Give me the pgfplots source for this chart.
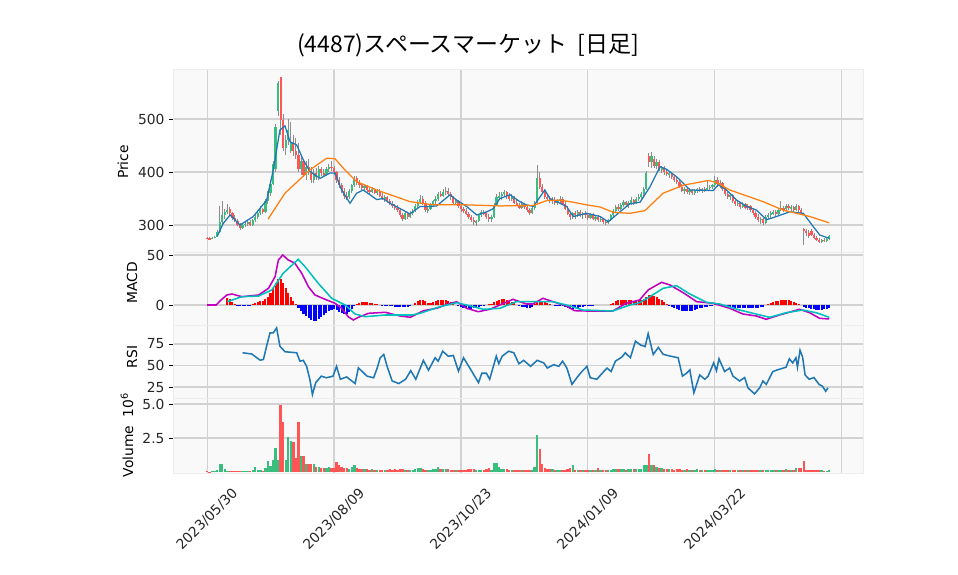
\documentclass[border=0pt]{standalone}
\usepackage{pgfplots}
\pgfplotsset{compat=1.18}
\usepackage{pgfplotstable}
\usepackage{fontspec}
\setmainfont{DejaVu Sans}
\newfontfamily\jpfont{Noto Sans CJK JP}

\definecolor{upc}{RGB}{58,190,128}
\definecolor{dnc}{RGB}{255,85,85}
\definecolor{wick}{RGB}{140,140,140}
\definecolor{gridc}{RGB}{210,210,210}
\definecolor{panel}{RGB}{249,249,249}
\definecolor{ma5}{RGB}{31,119,180}
\definecolor{ma25}{RGB}{255,127,14}
\definecolor{macdc}{RGB}{191,0,191}
\definecolor{sigc}{RGB}{0,191,191}

% daily candles: index, open, high, low, close, volume (10^6), macd histogram
\pgfplotstableread{
i o h l c v m
0 276 278 273 275 0.05 0
1 275 277 272 274 0.04 0
2 274 278 273 276 0.05 0
3 276 280 275 278 0.06 0
4 278 290 277 286 0.15 0
5 286 335 285 305 0.60 0
6 305 345 300 318 0.60 0
7 318 330 312 324 0.20 0
8 324 340 320 328 0.10 7
9 330 334 318 322 0.10 6
10 322 325 310 314 0.08 3
11 314 318 305 308 0.06 1
12 308 312 298 300 0.08 -1
13 300 304 290 294 0.05 -1.5
14 294 302 292 300 0.05 -1.2
15 300 305 296 302 0.05 -0.8
16 302 310 299 306 0.06 -0.5
17 306 309 298 300 0.08 -0.3
18 300 312 299 310 0.12 0.5
19 310 318 306 316 0.36 1.5
20 316 325 312 322 0.12 2.5
21 322 335 318 330 0.15 3.5
22 330 332 320 324 0.10 4
23 324 350 322 345 0.30 6
24 345 365 340 360 0.82 8
25 360 385 355 378 0.45 12
26 378 420 375 415 0.90 17
27 405 490 400 485 1.80 22
28 515 572 505 568 0.90 26
29 579 580 470 498 4.90 26
30 498 510 440 445 3.70 22
31 445 470 432 460 0.90 17
32 460 500 450 480 2.60 12
33 440 495 435 455 2.30 8
34 455 470 430 440 2.20 4
35 440 465 425 432 1.00 1
36 432 455 400 405 3.70 -3
37 405 430 395 420 1.20 -6
38 420 425 390 395 1.20 -9
39 395 420 385 410 0.60 -11
40 410 425 395 400 0.60 -13
41 400 410 380 385 0.60 -15
42 385 405 380 398 0.60 -16
43 398 408 385 390 0.40 -16
44 390 412 385 405 0.40 -14
45 405 410 392 398 0.30 -12
46 398 405 390 395 0.30 -10
47 395 410 392 405 0.30 -8
48 405 415 400 410 0.35 -6
49 410 420 402 408 0.30 -5
50 408 412 395 400 0.30 -4
51 400 402 380 385 0.75 -5
52 385 390 370 375 0.50 -7
53 375 380 360 365 0.40 -8
54 365 370 350 355 0.30 -9
55 355 362 348 352 0.30 -9
56 352 368 350 365 0.25 -7
57 365 378 360 375 0.40 -4
58 375 392 372 388 0.50 -1
59 388 392 375 380 0.30 1
60 380 385 370 375 0.25 2
61 375 380 366 370 0.20 3
62 370 378 365 374 0.20 3
63 374 376 362 366 0.20 2.5
64 366 370 358 362 0.15 2
65 362 372 360 368 0.20 1.5
66 368 370 358 360 0.15 1
67 360 368 356 365 0.15 0.5
68 365 368 352 355 0.15 0
69 355 360 348 350 0.15 -0.5
70 350 356 344 352 0.15 -0.5
71 352 355 342 345 0.15 -1
72 345 350 338 340 0.20 -1
73 340 345 332 336 0.15 -1.5
74 336 340 328 332 0.20 -2
75 332 338 325 328 0.15 -2
76 328 332 315 318 0.20 -2.5
77 318 322 308 312 0.20 -2.5
78 312 325 310 322 0.15 -2
79 322 325 312 315 0.15 -2
80 315 326 313 322 0.15 -1
81 322 330 318 326 0.15 0
82 326 340 324 336 0.20 2
83 336 348 332 344 0.30 4
84 344 356 340 350 0.30 5
85 350 355 338 342 0.20 5
86 342 345 325 328 0.15 4
87 328 335 322 330 0.15 2
88 330 342 328 338 0.15 2
89 338 348 335 345 0.20 3
90 345 355 340 350 0.20 4
91 350 362 345 358 0.38 5
92 358 365 352 355 0.20 5
93 355 368 352 362 0.20 5
94 362 372 356 365 0.20 4.5
95 365 370 355 358 0.20 4
96 358 362 348 352 0.15 3
97 352 355 340 342 0.15 1
98 342 350 338 345 0.15 0
99 345 348 332 335 0.15 -1.5
100 335 340 325 330 0.15 -2.5
101 330 334 322 326 0.15 -3
102 326 332 318 320 0.15 -3.5
103 320 325 312 315 0.20 -4
104 315 318 305 310 0.20 -4
105 310 315 300 305 0.20 -3.5
106 305 310 298 308 0.15 -3
107 308 320 305 318 0.15 -2
108 318 328 315 325 0.15 -1
109 325 328 318 322 0.15 -0.5
110 322 325 312 316 0.20 0
111 316 320 306 312 0.30 0.5
112 312 318 305 315 0.15 1
113 315 342 314 338 0.65 3
114 338 358 335 352 0.65 4
115 352 362 348 355 0.40 5
116 355 362 348 358 0.20 5.5
117 358 366 352 362 0.20 5.5
118 362 365 350 355 0.20 5
119 355 360 345 350 0.15 4
120 350 358 345 352 0.15 3
121 352 355 340 342 0.15 2
122 342 348 335 338 0.15 0
123 338 342 330 333 0.15 -1.5
124 333 345 330 340 0.15 -2
125 340 342 330 334 0.15 -2.5
126 334 338 325 328 0.15 -3
127 328 332 318 322 0.15 -3
128 322 335 320 332 0.15 -2
129 332 345 328 342 0.40 1
130 345 413 342 388 2.70 3
131 388 400 368 372 1.67 4
132 372 378 360 362 0.60 3.5
133 362 368 350 352 0.30 3
134 352 358 345 350 0.20 2
135 350 355 342 345 0.20 1
136 345 352 340 348 0.20 0
137 348 352 338 342 0.15 -0.5
138 342 350 338 346 0.15 -1
139 346 355 342 350 0.15 -1
140 350 352 338 340 0.15 -1.5
141 340 345 328 330 0.15 -2.5
142 330 335 318 320 0.20 -3.5
143 320 325 310 315 0.30 -4
144 315 325 312 322 0.55 -4
145 322 326 312 318 0.15 -3.5
146 318 328 316 325 0.15 -3
147 325 328 315 318 0.15 -2.5
148 318 325 312 322 0.15 -2
149 322 326 314 318 0.15 -1.5
150 318 322 310 314 0.15 -1
151 314 322 312 320 0.15 -0.5
152 320 322 310 312 0.15 -0.5
153 312 318 308 316 0.15 0
154 316 318 306 310 0.30 0
155 310 316 305 312 0.12 0
156 312 314 302 306 0.12 0
157 306 310 300 304 0.12 0
158 304 312 302 310 0.12 0
159 310 320 308 318 0.15 0.5
160 318 330 316 326 0.20 2
161 326 338 324 334 0.20 4
162 334 340 326 330 0.20 5
163 330 342 328 338 0.20 5
164 338 348 334 344 0.20 5
165 344 346 335 338 0.15 5
166 338 345 332 342 0.20 4.5
167 342 352 338 348 0.25 4.5
168 348 350 338 342 0.20 4
169 342 352 340 350 0.20 4
170 350 358 345 352 0.20 4.5
171 352 362 348 358 0.25 5
172 358 372 355 368 0.50 6
173 368 402 366 398 0.50 8
174 430 435 410 418 1.30 10
175 418 438 408 430 0.50 10
176 425 430 408 412 0.50 9
177 412 425 405 418 0.40 8
178 418 422 402 405 0.30 6
179 405 412 398 408 0.30 5
180 408 412 395 400 0.20 3
181 400 405 392 396 0.20 1
182 396 402 388 398 0.20 -1
183 398 400 386 390 0.20 -2
184 390 395 382 385 0.15 -3
185 385 390 378 382 0.20 -4
186 382 386 370 372 0.20 -5
187 372 378 362 365 0.15 -6
188 365 372 358 368 0.15 -6.5
189 368 372 358 362 0.25 -6.5
190 362 370 356 366 0.15 -6
191 366 368 356 360 0.15 -6
192 360 368 357 365 0.15 -5
193 365 370 360 368 0.20 -4
194 368 372 362 364 0.15 -3.5
195 364 370 360 368 0.15 -3
196 368 372 362 366 0.15 -2.5
197 366 385 364 370 0.15 -2
198 370 376 365 372 0.15 -1
199 372 378 368 375 0.15 -0.5
200 375 392 372 385 0.20 0.5
201 385 390 372 378 0.15 0.5
202 378 384 370 380 0.15 0.5
203 380 382 365 368 0.15 -0.5
204 368 372 355 358 0.15 -1
205 358 362 350 352 0.15 -1.5
206 352 360 348 356 0.15 -2
207 356 358 342 345 0.15 -2.5
208 345 350 336 340 0.15 -3
209 340 346 335 342 0.15 -3
210 342 344 330 334 0.15 -3
211 334 344 332 340 0.15 -3
212 340 342 330 332 0.12 -3.5
213 332 340 328 336 0.12 -3
214 336 338 325 328 0.12 -3
215 328 332 318 322 0.15 -3
216 322 326 312 316 0.15 -3
217 316 320 306 310 0.15 -3
218 310 316 302 312 0.15 -2.5
219 312 314 300 304 0.15 -2
220 304 318 302 316 0.15 0
221 316 322 312 318 0.15 1
222 318 326 314 322 0.15 2
223 322 328 318 324 0.15 3
224 324 328 316 320 0.15 3.5
225 320 332 318 328 0.15 4
226 328 345 326 332 0.15 5
227 332 336 325 330 0.15 5
228 330 340 326 336 0.20 5
229 336 340 328 332 0.15 4.5
230 332 338 326 334 0.15 4
231 334 336 325 328 0.15 3
232 328 340 326 335 0.30 2
233 335 338 325 328 0.30 1
234 328 332 318 322 0.30 0
235 292 295 262 288 0.82 -2
236 288 292 280 285 0.15 -3
237 285 290 276 280 0.12 -3.5
238 288 292 280 282 0.12 -4
239 282 285 274 276 0.12 -4.5
240 276 280 270 272 0.12 -5
241 272 276 266 268 0.12 -5
242 268 274 266 272 0.12 -5
243 272 276 268 270 0.10 -4.5
244 270 276 268 274 0.10 -4
245 274 282 272 280 0.12 -3
}\ohlc

\pgfplotstableread{
i v
4 279
6.4 303
9.1 319
13 300
18.2 316
23.5 347
26.1 404
28.7 479
30.7 487
32.7 457
35.3 451
37.9 423
40.5 401
44.5 388
48.4 398
50.4 398
53 366
56.3 341
58.9 360
61.5 366
64.2 357
66.8 348
69.4 350
72 341
76 331
79.9 321
83.9 335
87.8 335
90.4 336
95.7 357
98.3 347
102.2 335
106.2 319
110.2 325
112.7 331
115.3 350
119.3 357
123.2 344
125.8 338
128.5 335
131.1 353
133 366
135 350
139 341
141.6 335
144.2 316
149.5 322
154.8 316
158 306
162.6 325
166.5 340
170.5 343
174.4 372
178.4 410
181 405
184.9 391
187.5 379
190.2 366
199.3 365
201.3 376
204.6 366
208.5 347
212.5 335
216.4 328
220.3 310
224.2 316
229.5 325
234.8 322
238.7 297
241.3 281
245 275
}\mafive

\pgfplotstableread{
i v
24 311
30.7 360
40.5 404
47.1 426
50.4 425
53.7 407
58.9 382
66.8 366
80 344
89.1 338
102.2 338
115.3 336
128.5 337
133.7 346
139 347
144.2 343
149.5 338
154.8 334
160 324
166.5 322
172.4 327
179.6 360
187.5 375
197.4 384
200.7 380
205.9 366
219 344
226.9 328
237.4 316
245 304
}\matwfive

\pgfplotstableread{
i v
0 0
3.6 0
5.5 5
7.8 10
9.8 11
13.7 8.3
20.3 10
24.2 16.7
26.8 28.3
28.1 45
29.8 50
32 45
34.6 41.7
37.3 31.7
39.9 18.3
42.5 10
46.5 5.7
50.4 1.7
53 -3.3
55.6 -11.7
57.6 -15
59.6 -12.3
63.6 -8.3
70.2 -7.3
76 -11
80 -12.3
85.2 -5.7
90.4 -3.3
95.7 1.7
98.3 3.3
102.2 -3.3
106.8 -6.7
111.4 -4.3
115.3 0
120.5 5.7
125.8 1
128.3 1
132.3 6.7
136.2 3.3
141.5 -1
144.7 -5.7
149.3 -6
159.8 -6
165 1.7
170.3 5
173.7 15
176.4 19
179 22.7
182.3 20
187.5 12.3
192.8 3.3
199.3 1.7
205.8 -3.3
211 -9
216.3 -11
220.2 -14.3
225.4 -10
233.3 -4.3
237.3 -7.7
241.2 -13.3
245 -14
}\macd

\pgfplotstableread{
i v
8 3.3
13.7 8.3
20.3 9
25.5 15
30 31.7
35.9 45.7
38.6 38.3
43.8 21.7
49.1 6.7
54.4 0
58.3 -9
62.3 -11.7
70.2 -10
80.7 -10
83.9 -8.3
91.7 -1.7
98.3 2.3
102.2 0
108.8 -4.3
115.3 -3.3
121.8 3.3
128.3 3.3
136.2 3.3
141.5 0
148 -5
159.8 -6
166.5 0
170.3 2.3
174.4 8.3
179.6 16.7
184.9 19.3
190.1 11
196.7 2.7
201.9 1
209.7 -5
221.5 -12.3
228.1 -7.7
234.6 -5
239.9 -7.7
245 -12.3
}\signal

\pgfplotstableread{
i v
14 64.8
17.6 63.4
20.9 56.2
22.2 57
23.5 73
24.8 88
26.1 88
27.4 93.8
28.7 72.4
30.7 66
35.3 64.8
36.6 55
37.9 56
39.2 49.2
40.5 33.7
41.5 16.3
42.8 30
45 37.6
47 35.7
49.6 37.6
51 49
52.5 34
55 36.7
58.3 29
59.6 47.3
63 37.6
65.6 35.7
67 47
68.2 59
69.6 62.8
70.9 49
72.9 32
75.5 29
78.2 34
80.2 44
82.2 34
85.2 56
87.2 44.5
89.8 59
91 55
92.8 66.6
95 60.8
97 61.6
99 43.4
101 59
104.3 43
106.9 30
108.2 41
110 41
111.3 34
113.9 60.8
114.9 52.2
116.2 60.8
118.8 66.6
120.8 64.8
122.8 52
124.7 56
127.4 49
130 56
132.6 53
134 47
136.5 51
138.5 49
140 55
141.7 47
143.7 28
145.6 35.7
147.6 43
149.6 49
150.9 35.7
153.5 34
155.5 40.7
157.5 47
159.1 43
160.8 55
163.4 60
164.7 64.8
166.7 59
168.7 78.3
170.6 74
172.5 72
173.7 87
175.7 62.8
177.7 71
179.6 63
182.3 61
185.5 59
187.2 37.6
188.8 41
190.1 45
191.7 18.2
194 39
196 34
197.3 37.6
199.5 53
200.6 44
201.6 57.8
203.8 43
205.8 47
207.1 37.6
209.7 32
211.7 36
213 24
215.6 17
217.6 24
218.9 32
220.2 28
222.8 43
224.7 45
228 48
229.3 57.8
230.6 53
231.9 59
232.5 48
233.5 67.8
234.5 60
235.5 39
237.1 34
239 36
241 28
242.3 26
243.6 20
244.5 24
}\rsi

\pgfplotsset{
  panel/.style={
    scale only axis, width=496.8bp,
    xmin=-13.4, xmax=258.3,
    axis background/.style={fill=panel},
    axis line style={draw=black!7},
    grid=major, grid style={gridc, line width=0.75bp},
    xtick={0,50,...,250}, xticklabels={},
    xtick style={draw=none},
    tick align=outside, major tick length=2.6bp,
    ytick style={black, line width=0.6bp},
    ytick pos=left,
    /pgf/number format/assume math mode=true,
    yticklabel style={font=\fontsize{10}{12}\selectfont, text=black!85},
    anchor=south west,
  },
}

\begin{document}
\begin{tikzpicture}
\path[use as bounding box] (0,0) rectangle (689.76bp,414bp);

% price panel
\begin{axis}[panel, at={(124.56bp,232.56bp)}, height=131.76bp,
  ymin=249.1, ymax=594.3, ytick={300,400,500}]
\addplot[draw=none, mark=none, error bars/.cd, y dir=both, y explicit,
  error mark=none, error bar style={draw=wick, line width=0.7bp}]
  table[x=i, y expr={0.5*(\thisrow{h}+\thisrow{l})}, y error expr={0.5*(\thisrow{h}-\thisrow{l})}] {\ohlc};
\addplot[draw=none, mark=none, unbounded coords=discard, error bars/.cd, y dir=both, y explicit,
  error mark=none, error bar style={draw=upc, line width=1.6bp}]
  table[x=i, y expr={(\thisrow{c}>=\thisrow{o}) ? 0.5*(\thisrow{o}+\thisrow{c}) : nan},
        y error expr={0.5*abs(\thisrow{c}-\thisrow{o})}] {\ohlc};
\addplot[draw=none, mark=none, unbounded coords=discard, error bars/.cd, y dir=both, y explicit,
  error mark=none, error bar style={draw=dnc, line width=1.6bp}]
  table[x=i, y expr={(\thisrow{c}<\thisrow{o}) ? 0.5*(\thisrow{o}+\thisrow{c}) : nan},
        y error expr={0.5*abs(\thisrow{c}-\thisrow{o})}] {\ohlc};
\addplot[ma5, line width=0.9bp] table[x=i, y=v] {\mafive};
\addplot[ma25, line width=0.9bp] table[x=i, y=v] {\matwfive};
\end{axis}

% MACD panel
\begin{axis}[panel, at={(124.56bp,180bp)}, height=52.56bp,
  ymin=-20, ymax=53, ytick={0,50}]
\addplot[ycomb, red, line width=1.5bp, unbounded coords=discard]
  table[x=i, y expr={(\thisrow{m}>=0) ? \thisrow{m} : nan}] {\ohlc};
\addplot[ycomb, blue, line width=1.5bp, unbounded coords=discard]
  table[x=i, y expr={(\thisrow{m}<0) ? \thisrow{m} : nan}] {\ohlc};
\addplot[macdc, line width=1.1bp] table[x=i, y=v] {\macd};
\addplot[sigc, line width=1.1bp] table[x=i, y=v] {\signal};
\end{axis}

% RSI panel
\begin{axis}[panel, at={(124.56bp,127.44bp)}, height=52.56bp,
  ymin=12.2, ymax=97.1, ytick={25,50,75}]
\addplot[ma5, line width=1.1bp] table[x=i, y=v] {\rsi};
\end{axis}

% volume panel
\begin{axis}[panel, at={(124.56bp,73.44bp)}, height=54bp,
  ymin=-0.07, ymax=5.44, ytick={2.5,5}, yticklabels={2.5,5.0},
  xtick style={black, line width=0.6bp}, xtick pos=bottom,
  xticklabels={2023/05/30,2023/08/09,2023/10/23,2024/01/09,2024/03/22,},
  xticklabel style={font=\fontsize{10}{12}\selectfont, text=black!85,
    yshift=-30.6bp, rotate=45, anchor=center}]
\addplot[ycomb, upc, line width=1.7bp, unbounded coords=discard]
  table[x=i, y expr={(\thisrow{c}>=\thisrow{o}) ? \thisrow{v} : nan}] {\ohlc};
\addplot[ycomb, dnc, line width=1.7bp, unbounded coords=discard]
  table[x=i, y expr={(\thisrow{c}<\thisrow{o}) ? \thisrow{v} : nan}] {\ohlc};
\end{axis}

% titles and axis names
\node[font=\jpfont\fontsize{16.6}{19}\selectfont] at (336.96bp,381.6bp) {(4487)スペースマーケット\ \ [日足]};
\node[rotate=90, font=\fontsize{10}{12}\selectfont] at (88.56bp,297.36bp) {Price};
\node[rotate=90, font=\fontsize{10}{12}\selectfont] at (95.04bp,210.24bp) {MACD};
\node[rotate=90, font=\fontsize{10}{12}\selectfont] at (95.04bp,156.96bp) {RSI};
\node[rotate=90, font=\fontsize{10}{12}\selectfont] at (91.44bp,100.8bp) {Volume\ \ 10\textsuperscript{6}};
\end{tikzpicture}
\end{document}
